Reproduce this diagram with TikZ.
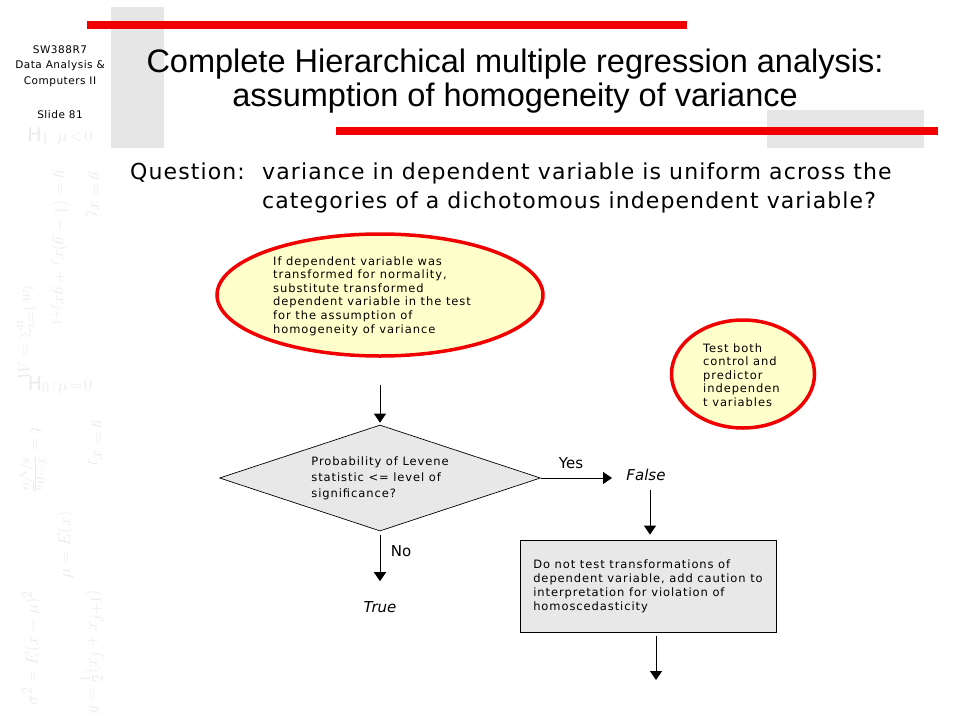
\documentclass[tikz,border=0pt]{standalone}
\usepackage{fontspec}
\setmainfont{DejaVu Sans}
\newfontfamily\titlefont{Liberation Sans}
\newfontfamily\smallfont[LetterSpace=8]{DejaVu Sans}
\newfontfamily\questionfont[LetterSpace=5]{DejaVu Sans}
\newfontfamily\sidefont[LetterSpace=5]{DejaVu Sans}
\usetikzlibrary{arrows.meta,shapes.geometric,calc}
\definecolor{slidered}{RGB}{240,0,0}
\definecolor{paleyellow}{RGB}{255,255,204}
\definecolor{boxgray}{RGB}{232,232,232}
\definecolor{bargray}{RGB}{230,230,230}
\definecolor{wmgray}{RGB}{234,234,234}
\tikzset{
  arr/.style={line width=1pt,-{Triangle[width=12pt,length=9pt]}},
  redellipse/.style={ellipse,draw=slidered,line width=3.5pt,fill=paleyellow,inner sep=0pt},
  smalltext/.style={inner sep=0pt,align=left,font=\smallfont\fontsize{11.5}{13.6}\selectfont},
  decisionbox/.style={diamond,aspect=3.03,draw=black,line width=0.7pt,fill=boxgray,inner sep=0pt,align=left,font=\smallfont\fontsize{11.5}{16}\selectfont},
  actionbox/.style={rectangle,draw=black,line width=0.8pt,fill=boxgray,inner sep=0pt,align=left,font=\smallfont\fontsize{11.5}{14}\selectfont},
  lbl/.style={font=\fontsize{15}{18}\selectfont,inner sep=1pt},
  sidetxt/.style={font=\sidefont\fontsize{10.5}{16}\selectfont,inner sep=0pt},
  wm/.style={text=wmgray,inner sep=0pt,font=\fontsize{19}{24}\selectfont}
}
\begin{document}
\begin{tikzpicture}[x=1pt,y=-1pt]
\path[use as bounding box] (0,0) rectangle (960,720);
\fill[white] (0,0) rectangle (960,720);
% watermark formulas in the sidebar
\node[wm] (wm1) at (60,136) {$\mathrm{H}_1\!:\!\mu\!<\!0$};
\node[wm] (wm2) at (60,385) {$\mathrm{H}_0\!:\!\mu\!=\!0$};
\node[wm,rotate=-90,font=\fontsize{17}{20}\selectfont] (wm3) at (60,248) {$y=(1-g)x_j+gx_{j+1}$};
\node[wm,rotate=-90] (wm4) at (92,195) {$y=x_\xi$};
\node[wm,rotate=90] (wm5) at (26,332) {$W=\sum_{i=1}^{n}w_i$};
\node[wm,rotate=-90] (wm6) at (95,443) {$y=x_j$};
\node[wm,rotate=-90] (wm7) at (33,460) {$t=\frac{\bar{x}-\mu_0}{s/\sqrt{n}}$};
\node[wm,rotate=90,font=\fontsize{17}{20}\selectfont] (wm8) at (66,545) {$\mu=E(x)$};
\node[wm,rotate=90] (wm9) at (32,648) {$\sigma^2=E(x-\mu)^2$};
\node[wm,rotate=90] (wm10) at (92,652) {$y=\frac12(x_j+x_{j+1})$};
% decorative bars
\fill[bargray] (111,7) rectangle (164,148);
\fill[bargray] (767,110) rectangle (924,148);
\fill[slidered] (87,21) rectangle (687,29);
\fill[slidered] (336,127) rectangle (938,135);
% sidebar text
\node[sidetxt] (s1) at (60,50) {SW388R7};
\node[sidetxt] (s2) at (60,66) {Data Analysis \&};
\node[sidetxt] (s3) at (60,82) {Computers II};
\node[sidetxt] (s4) at (60,115) {Slide 81};
% title
\node[align=center,font=\titlefont\fontsize{32.5}{34}\selectfont,inner sep=0pt] (title) at (515,81)
  {Complete Hierarchical multiple regression analysis:\\assumption of homogeneity of variance};
% question
\node[anchor=base west,inner sep=0pt,font=\questionfont\fontsize{22}{29}\selectfont] (q) at (130,179) {Question:};
\node[anchor=base west,inner sep=0pt,font=\questionfont\fontsize{22}{29}\selectfont] (q1) at (262,179) {variance in dependent variable is uniform across the};
\node[anchor=base west,inner sep=0pt,font=\questionfont\fontsize{22}{29}\selectfont] (q2) at (262,208) {categories of a dichotomous independent variable?};
% flowchart
\node[redellipse,minimum width=326,minimum height=122] (e1) at (380,295) {};
\node[smalltext,anchor=west] (e1t) at (273,296)
  {If dependent variable was\\transformed for normality,\\substitute transformed\\dependent variable in the test\\for the assumption of\\homogeneity of variance};
\node[redellipse,minimum width=143,minimum height=108] (e2) at (743,374) {};
\node[smalltext,anchor=west] (e2t) at (703,375)
  {Test both\\control and\\predictor\\independen\\t variables};
\node[decisionbox,minimum width=321,minimum height=106] (dia) at (380,478)
  {Probability of Levene\\statistic <= level of\\significance?};
\node[actionbox,minimum width=256,minimum height=92] (box) at (648,586)
  {Do not test transformations of\\dependent variable, add caution to\\interpretation for violation of\\homoscedasticity};
\node[lbl,font=\fontsize{15}{18}\selectfont\itshape] (f) at (646,475) {False};
\node[lbl,font=\fontsize{15}{18}\selectfont\itshape] (t) at (380,607) {True};
\node[lbl] (yes) at (571,463) {Yes};
\node[lbl] (no) at (401,551) {No};
\coordinate (yesend) at (612,478);
\coordinate (outend) at (656,680);
% connectors
\draw[arr,shorten <=27pt,shorten >=2pt] (e1.south) -- (dia.north);
\draw[arr] (dia.east) -- (yesend);
\draw[arr,shorten <=8pt,shorten >=5pt] ([xshift=4pt]f.south) -- ([xshift=4pt]f.south |- box.north);
\draw[arr,shorten <=4pt] (outend |- box.south) -- (outend);
\draw[arr,shorten <=4pt,shorten >=19pt] (dia.south) -- (t.north);
\end{tikzpicture}
\end{document}
